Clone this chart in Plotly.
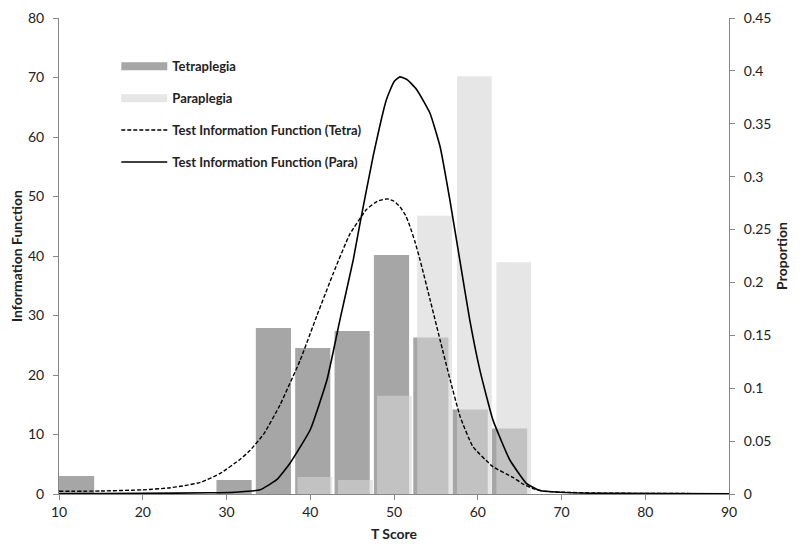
import plotly.graph_objects as go

# ---- data ----
tetra_x = [12.1, 30.9, 35.6, 40.3, 45.0, 49.7, 54.4, 59.1, 63.8]
tetra_prop = [0.0169, 0.0132, 0.157, 0.138, 0.154, 0.226, 0.148, 0.080, 0.062]

para_x = [40.55, 45.4, 50.05, 54.85, 59.6, 64.3]
para_prop = [0.016, 0.0132, 0.0928, 0.263, 0.395, 0.219]

tif_tetra_x = [10, 15, 20, 23, 25, 27, 29.3, 31.6, 32.8, 34.5, 36.4, 38.8, 40.8, 42.75,
               44.7, 46.7, 48.0, 49.2, 50.0, 50.7, 51.4, 51.9, 52.5, 53.1, 54.3, 55.5,
               56.7, 57.9, 59.4, 61.8, 64.2, 65.5, 66.6, 68, 70, 75, 80, 90]
tif_tetra_y = [0.45, 0.5, 0.7, 1.0, 1.4, 2.0, 3.5, 5.8, 7.3, 10.2, 15.0, 22.5, 30.0, 37.1,
               43.6, 47.8, 49.2, 49.6, 49.2, 48.3, 46.8, 45.0, 42.4, 39.4, 32.7, 25.9,
               19.2, 13.0, 8.0, 4.6, 2.8, 1.6, 0.9, 0.45, 0.3, 0.15, 0.1, 0.05]

tif_para_x = [10, 20, 28, 31, 34.0, 36.0, 37.6, 40.0, 42.0, 43.55, 45.14, 45.94, 47.5,
              49.1, 50.0, 50.7, 51.6, 52.7, 54.3, 55.5, 56.66, 57.85, 59.04, 60.24, 61.8,
              63.8, 65.8, 67.4, 69.8, 75, 90]
tif_para_y = [0.05, 0.1, 0.2, 0.3, 0.7, 2.4, 5.2, 10.8, 19.2, 29.3, 39.4, 45.5, 56.7,
              66.3, 69.3, 70.1, 69.6, 68.0, 64.0, 58.4, 49.5, 39.4, 29.3, 20.9, 12.5,
              5.8, 1.8, 0.6, 0.3, 0.1, 0.05]

x_ticks = [10, 20, 30, 40, 50, 60, 70, 80, 90]

FONT = "Lato"
AXC = "#868686"

fig = go.Figure()

# bars on primary y (drawn under lines)
fig.add_trace(go.Bar(x=tetra_x, y=tetra_prop, width=4.2, marker_color="#a6a6a6",
                     marker_line_width=0, showlegend=False, yaxis="y", hoverinfo="skip"))
fig.add_trace(go.Bar(x=para_x, y=para_prop, width=4.15, marker_color="rgb(214,214,214)",
                     opacity=0.6, marker_line_width=0, showlegend=False, yaxis="y",
                     hoverinfo="skip"))

# lines on y2 (Information Function, left)
fig.add_trace(go.Scatter(x=tif_tetra_x, y=tif_tetra_y, mode="lines", yaxis="y2",
                         line=dict(color="black", width=1.4, dash="4px,2px", shape="spline",
                                   smoothing=0.4),
                         name="Test Information Function (Tetra)", legendgroup="c",
                         legendrank=3))
fig.add_trace(go.Scatter(x=tif_para_x, y=tif_para_y, mode="lines", yaxis="y2",
                         line=dict(color="black", width=1.6, shape="spline", smoothing=0.4),
                         name="Test Information Function (Para)", legendgroup="d",
                         legendrank=4))

# legend swatches for bars
fig.add_trace(go.Scatter(x=[None], y=[None], mode="lines", yaxis="y2",
                         line=dict(color="#a6a6a6", width=8), name="Tetraplegia",
                         legendgroup="a", legendrank=1))
fig.add_trace(go.Scatter(x=[None], y=[None], mode="lines", yaxis="y2",
                         line=dict(color="#e6e6e6", width=8), name="Paraplegia",
                         legendgroup="b", legendrank=2))

# page body has an 8px margin, so the figure is 792x545 and sits at (8, 8)
fig.update_layout(
    width=792, height=545,
    margin=dict(l=50.5, r=70.7, t=10.3, b=58.7, autoexpand=False),
    paper_bgcolor="white", plot_bgcolor="white",
    barmode="overlay",
    font=dict(family=FONT, size=14, color="#222"),
    showlegend=True,
    legend=dict(x=0.0855, y=0.93, xanchor="left", yanchor="top", itemwidth=46,
                bgcolor="rgba(0,0,0,0)", tracegroupgap=12,
                font=dict(family=FONT, size=13, color="#222", weight="bold"),
                traceorder="grouped"),
    xaxis=dict(range=[10, 90], tickvals=x_ticks, ticks="outside", ticklen=5,
               tickcolor=AXC, showline=True, linecolor=AXC, linewidth=1,
               showgrid=False, zeroline=False, automargin=False,
               title=dict(text="<b>T Score</b>", standoff=10, font=dict(size=14))),
    yaxis=dict(range=[0, 0.45], dtick=0.05, side="right", ticks="outside", ticklen=5,
               tickcolor=AXC, showline=True, linecolor=AXC, linewidth=1,
               showgrid=False, zeroline=False, automargin=False, ticklabelstandoff=6,
               title=dict(text="<b>Proportion</b>", standoff=6, font=dict(size=14))),
    yaxis2=dict(range=[0, 80], dtick=10, side="left", overlaying="y", ticks="outside",
                ticklen=5, tickcolor=AXC, showline=True, linecolor=AXC, linewidth=1,
                showgrid=False, zeroline=False, automargin=False, ticklabelstandoff=6,
                title=dict(text="<b>Information Function</b>", standoff=4,
                           font=dict(size=14))),
)

fig.write_html("out.html")
